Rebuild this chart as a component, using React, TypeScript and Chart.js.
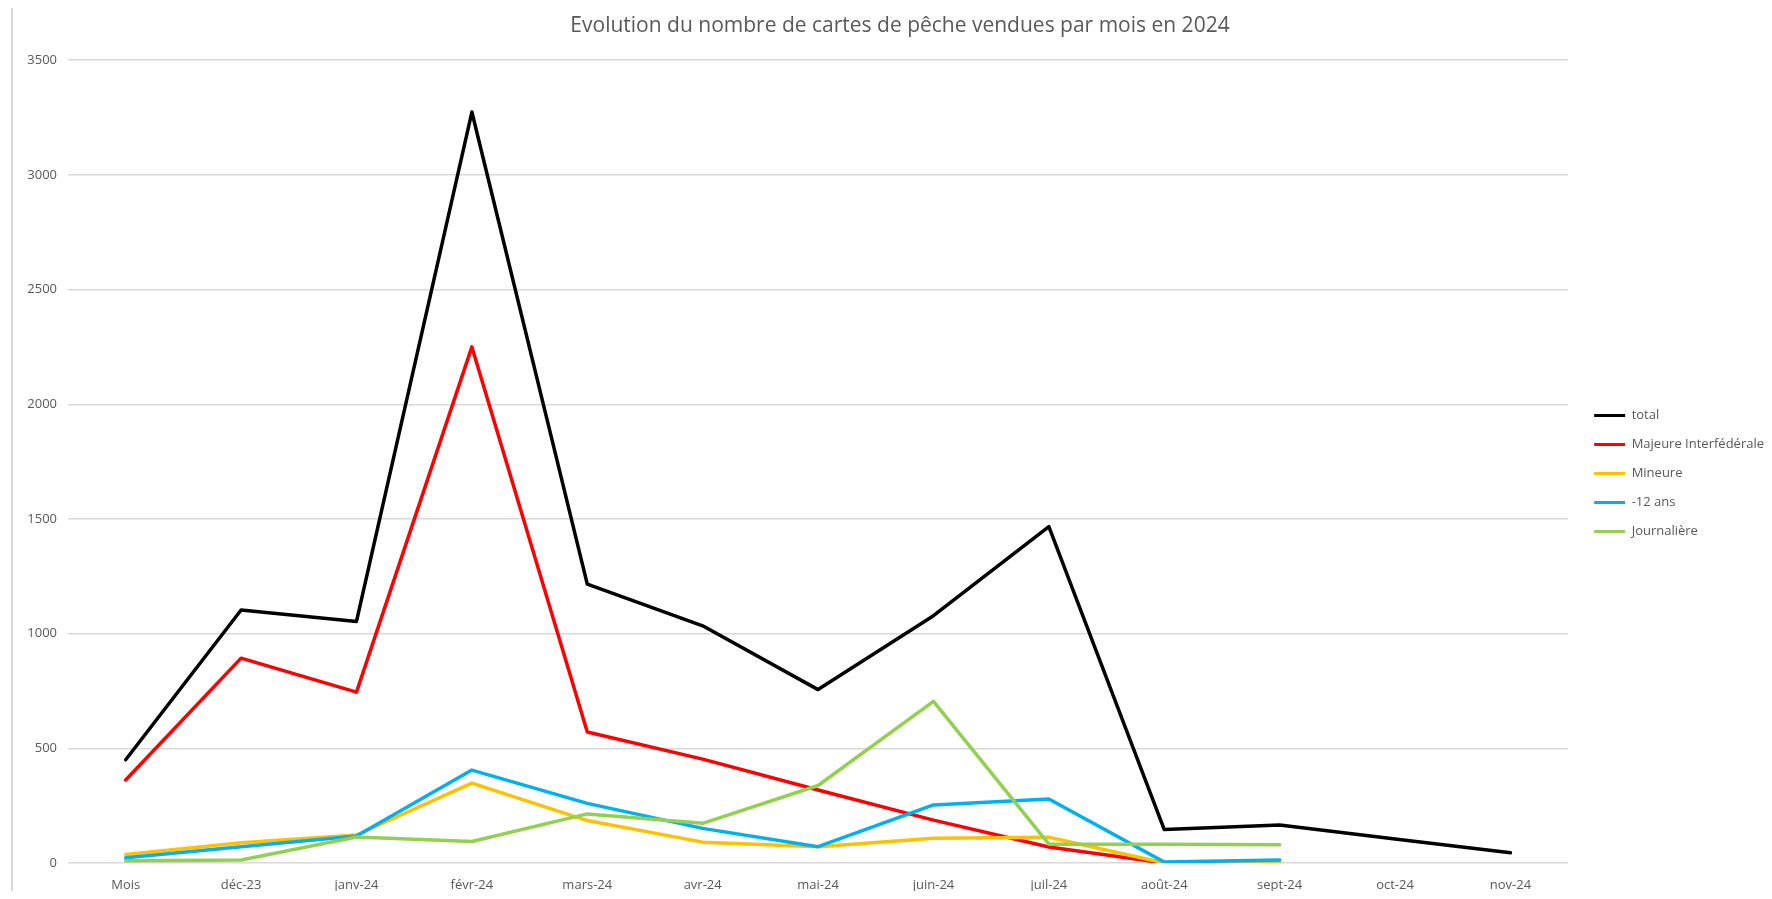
import React, { useEffect, useRef } from "react";
import { Chart, registerables } from "chart.js";

Chart.register(...registerables);

const TITLE = "Evolution du nombre de cartes de pêche vendues par mois en 2024";
const categories = ["Mois", "déc-23", "janv-24", "févr-24", "mars-24", "avr-24", "mai-24", "juin-24", "juil-24", "août-24", "sept-24", "oct-24", "nov-24"];
const seriesNames = ["total", "Majeure Interfédérale", "Mineure", "-12 ans", "Journalière"];
const totalValues = [450, 1103, 1053, 3274, 1216, 1034, 756, 1078, 1467, 146, 166, 105, 45];
const majeureValues = [362, 893, 745, 2250, 571, 453, 318, 187, 70, 0, 0, null, null];
const mineureValues = [37, 88, 122, 348, 185, 91, 71, 108, 112, 0, 2, null, null];
const moins12Values = [23, 71, 118, 405, 260, 151, 71, 253, 279, 4, 13, null, null];
const journaliereValues = [10, 13, 113, 94, 214, 173, 338, 705, 82, 82, 80, null, null];
const seriesColors = ["#000000", "#FF0000", "#FFC000", "#00B0F0", "#92D050"];
const yTicks = [0, 500, 1000, 1500, 2000, 2500, 3000, 3500];

const shiftPlugin = {
  id: "shiftBoxes",
  afterLayout(chart: any) {
    const lg = chart.legend;
    if (lg) {
      lg.left += 10;
      lg.right += 10;
      lg.top += 20;
      lg.bottom += 20;
    }
    const tb = chart.titleBlock;
    if (tb) {
      tb.left += 14;
      tb.right += 14;
    }
  },
};

export default function App() {
  const canvasRef = useRef<HTMLCanvasElement | null>(null);

  useEffect(() => {
    if (!canvasRef.current) return;
    Chart.defaults.font.family = "'Open Sans', sans-serif";
    const allValues = [totalValues, majeureValues, mineureValues, moins12Values, journaliereValues];
    const datasets = seriesNames.map((name, i) => ({
      label: name,
      data: allValues[i],
      borderColor: seriesColors[i],
      backgroundColor: seriesColors[i],
      borderWidth: 3.5,
      pointRadius: 0,
      pointHoverRadius: 0,
      tension: 0,
      borderJoinStyle: "round" as const,
      borderCapStyle: "round" as const,
      spanGaps: false,
      order: seriesNames.length - 1 - i,
    }));

    const chart = new Chart(canvasRef.current, {
      type: "line",
      data: { labels: categories, datasets },
      plugins: [shiftPlugin],
      options: {
        animation: false,
        responsive: true,
        maintainAspectRatio: false,
        layout: { padding: 0 },
        plugins: {
          title: {
            display: true,
            text: TITLE,
            color: "#595959",
            font: { size: 21, weight: "normal" },
            padding: { top: 5, bottom: 22 },
          },
          legend: {
            display: true,
            position: "right",
            labels: {
              color: "#595959",
              font: { size: 13 },
              boxWidth: 31,
              boxHeight: 3,
              padding: 16,
              sort: (a: any, b: any) => a.datasetIndex - b.datasetIndex,
              generateLabels: (c: any) =>
                Chart.defaults.plugins.legend.labels
                  .generateLabels(c)
                  .map((l: any) => ({ ...l, lineWidth: 0, fillStyle: l.strokeStyle })),
            },
          },
          tooltip: { enabled: false },
        },
        scales: {
          x: {
            offset: true,
            grid: { display: false, drawTicks: false },
            border: { display: false },
            ticks: { color: "#595959", font: { size: 13 }, padding: 14, maxRotation: 0, autoSkip: false },
            afterFit: (scale: any) => {
              scale.height = 36;
            },
          },
          y: {
            min: 0,
            max: 3500,
            afterBuildTicks: (scale: any) => {
              scale.ticks = yTicks.map((v) => ({ value: v }));
            },
            afterFit: (scale: any) => {
              scale.width = 60;
            },
            grid: { color: "#D9D9D9", lineWidth: 1.5, drawTicks: false },
            border: { display: false },
            ticks: { color: "#595959", font: { size: 13 }, padding: 11, callback: (v: any) => String(v) },
          },
        },
      },
    });
    return () => chart.destroy();
  }, []);

  return (
    <div style={{ position: "relative", width: 1756, height: 891, marginBottom: -8, background: "#ffffff" }}>
      <div style={{ position: "absolute", left: 3, top: 0, bottom: 0, width: 2, background: "#D9D9D9" }} />
      <canvas ref={canvasRef} style={{ position: "absolute", left: 0, top: 0, width: "100%", height: "100%" }} />
    </div>
  );
}
